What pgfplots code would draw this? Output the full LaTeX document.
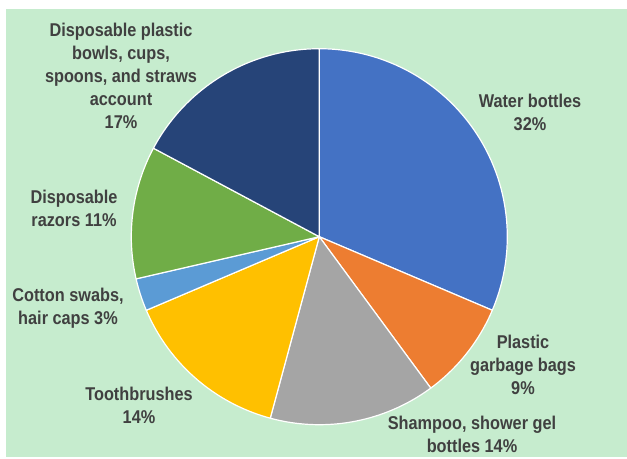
\documentclass[border=0pt]{standalone}
\usepackage{pgfplots}
\pgfplotsset{compat=1.18}
\usepackage{pgfplotstable}
\usepackage{fontspec}
\setmainfont{Liberation Sans}[FakeStretch=0.88]
\definecolor{bg}{HTML}{C6ECCE}
\definecolor{txt}{HTML}{404040}
\definecolor{c1}{HTML}{4472C4}
\definecolor{c2}{HTML}{ED7D31}
\definecolor{c3}{HTML}{A5A5A5}
\definecolor{c4}{HTML}{FFC000}
\definecolor{c5}{HTML}{5B9BD5}
\definecolor{c6}{HTML}{70AD47}
\definecolor{c7}{HTML}{264478}
% start (cumulative %), share (%)
\pgfplotstableread{
start share
0    31.4
31.4 8.5
39.9 14.3
54.2 14.4
68.6 2.8
71.4 11.4
82.8 17.2
}\piedata
\newcommand{\slice}[3]{%
  \pgfmathsetmacro{\aa}{3.6*#1}%
  \pgfmathsetmacro{\bb}{3.6*(#1+#2)}%
  \edef\tmp{\noexpand\addplot[fill=#3, draw=white, line width=1.2pt, line join=round, domain=\aa:\bb, samples=90, variable=\noexpand\t]}%
  \tmp ({319.3+188*sin(\t)},{236.7-188*cos(\t)}) -- (axis cs:319.3,236.7) -- cycle;%
}
\begin{document}
\begin{tikzpicture}
\begin{axis}[
  width=627bp, height=459bp, scale only axis,
  xmin=0, xmax=627, ymin=0, ymax=459, y dir=reverse,
  hide axis, clip=false,
]
\path (axis cs:0,0) rectangle (axis cs:627,459);
\fill[bg] (axis cs:6,9) rectangle (axis cs:627,457);
\slice{0}{31.4}{c1}
\slice{31.4}{8.5}{c2}
\slice{39.9}{14.3}{c3}
\slice{54.2}{14.4}{c4}
\slice{68.6}{2.8}{c5}
\slice{71.4}{11.4}{c6}
\slice{82.8}{17.2}{c7}
\tikzset{lbl/.style={font=\fontsize{18.5bp}{23bp}\selectfont\bfseries, text=txt, align=center, inner sep=0pt}}
\node[lbl] at (axis cs:121,76) {Disposable plastic\\bowls, cups,\\spoons, and straws\\account\\17\%};
\node[lbl] at (axis cs:530,112) {Water bottles\\32\%};
\node[lbl] at (axis cs:523,365) {Plastic\\garbage bags\\9\%};
\node[lbl] at (axis cs:472,434) {Shampoo, shower gel\\bottles 14\%};
\node[lbl] at (axis cs:139,405) {Toothbrushes\\14\%};
\node[lbl] at (axis cs:68,308) {Cotton swabs,\\hair caps 3\%};
\node[lbl] at (axis cs:74,208) {Disposable\\razors 11\%};
\end{axis}
\end{tikzpicture}
\end{document}
